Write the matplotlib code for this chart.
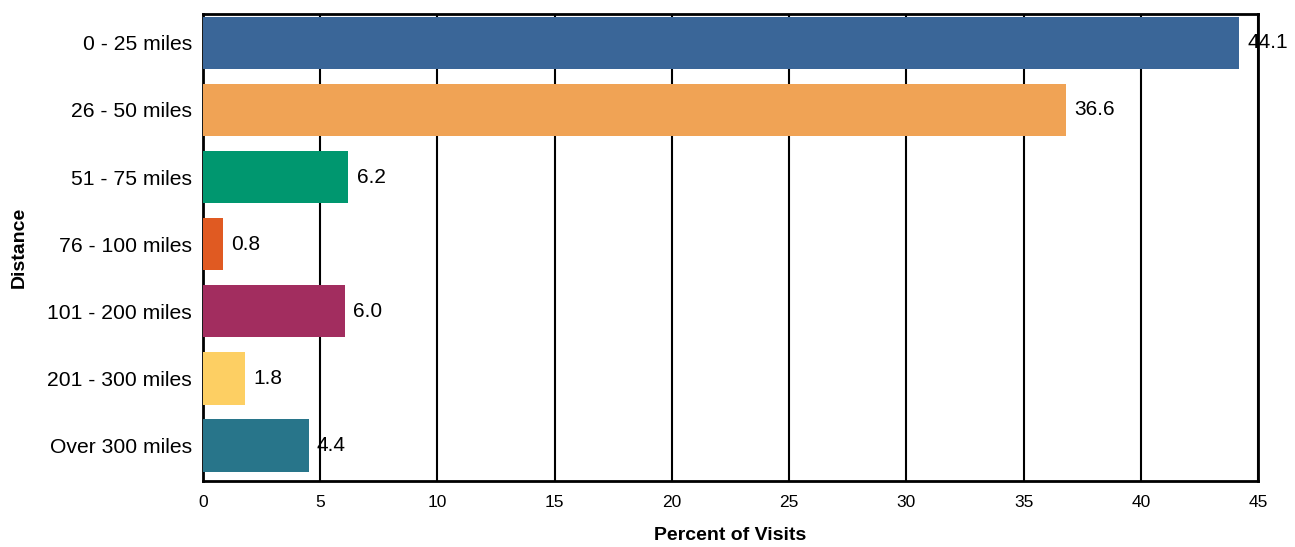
import matplotlib
matplotlib.use('Agg')
import matplotlib.pyplot as plt

# -- data --------------------------------------------------------------------
categories = ['0 - 25 miles', '26 - 50 miles', '51 - 75 miles', '76 - 100 miles',
              '101 - 200 miles', '201 - 300 miles', 'Over 300 miles']
values     = [44.2, 36.8, 6.2, 0.85, 6.05, 1.8, 4.5]
labels     = ['44.1', '36.6', '6.2', '0.8', '6.0', '1.8', '4.4']
colors     = ['#3A6698', '#F0A355', '#00976F', '#E05A22', '#A22D5F', '#FDCF63', '#28758A']
xticks     = [0, 5, 10, 15, 20, 25, 30, 35, 40, 45]

plt.rcParams['font.family'] = ['Liberation Sans', 'DejaVu Sans']

fig = plt.figure(figsize=(12.95, 5.47), dpi=100)
ax = fig.add_axes([203 / 1295, 1 - 481 / 547, (1258 - 203) / 1295, (481 - 14) / 547])

y = list(range(len(categories)))
ax.barh(y, values, height=0.78, color=colors, zorder=3)

for yi, v, lab in zip(y, values, labels):
    ax.text(v + 0.35, yi, lab, va='center', ha='left', fontsize=15, zorder=4)

ax.set_xlim(0, 45)
ax.set_ylim(6.53, -0.43)
ax.set_xticks(xticks)
ax.set_yticks(y)
ax.set_yticklabels(categories, fontsize=15.2)
ax.tick_params(axis='x', labelsize=12.5, length=0, pad=10)
ax.tick_params(axis='y', length=0, pad=8)

ax.grid(axis='x', color='black', linewidth=1.5, zorder=0)
ax.set_axisbelow(True)
for s in ax.spines.values():
    s.set_linewidth(2)
    s.set_color('black')

ax.set_xlabel('Percent of Visits', fontsize=14, fontweight='bold', labelpad=12)
ax.set_ylabel('Distance', fontsize=14, fontweight='bold', labelpad=14)

fig.savefig('out.png', dpi=100)
